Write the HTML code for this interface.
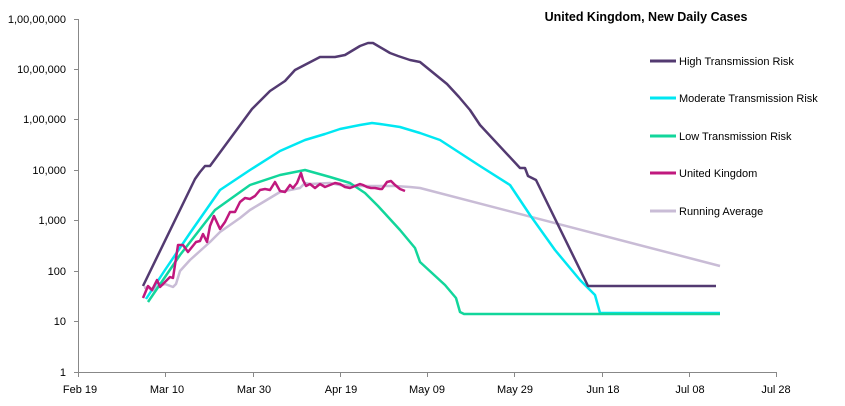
<!DOCTYPE html><html><head><style>body{margin:0;background:#fff}svg{display:block}text{font-family:"Liberation Sans",sans-serif;font-size:11px;fill:#000}</style></head><body>
<svg width="845" height="406" viewBox="0 0 845 406">
<g stroke="#888" stroke-width="1" fill="none">
<line x1="78.5" y1="19" x2="78.5" y2="372"/><line x1="78" y1="372.5" x2="777" y2="372.5"/>
<path d="M74 19.5H78M74 69.5H78M74 119.5H78M74 170.5H78M74 220.5H78M74 271.5H78M74 321.5H78M74 372.5H78"/>
<path d="M78.5 372V377M165.5 372V377M253.5 372V377M340.5 372V377M427.5 372V377M514.5 372V377M602.5 372V377M689.5 372V377M776.5 372V377"/>
</g>
<g text-anchor="end">
<text x="66" y="23">1,00,00,000</text><text x="66" y="73">10,00,000</text><text x="66" y="123">1,00,000</text><text x="66" y="174">10,000</text><text x="66" y="224">1,000</text><text x="66" y="275">100</text><text x="66" y="325">10</text><text x="66" y="376">1</text></g>
<g text-anchor="middle">
<text x="80" y="393">Feb 19</text><text x="167" y="393">Mar 10</text><text x="254" y="393">Mar 30</text><text x="341" y="393">Apr 19</text><text x="427" y="393">May 09</text><text x="515" y="393">May 29</text><text x="603" y="393">Jun 18</text><text x="690" y="393">Jul 08</text><text x="776" y="393">Jul 28</text></g>
<text x="646" y="21" text-anchor="middle" style="font-size:12.5px;font-weight:bold">United Kingdom, New Daily Cases</text>
<g fill="none" stroke-width="2.5" stroke-linejoin="round">
<polyline stroke="#c9bcd6" points="144,288 148,287 152,291 158,286 165,284 173,287 176,284 180,271 190,260 200,251 210,242 220,232 230,225 240,218 250,210 260,204 270,198 280,192 290,190 300,188 305,183 310,184 330,183 340,185 360,186 380,186 395,186 410,187 420,188 720,266"/>
<polyline stroke="#00e7f2" points="146,299 165,270 190,233 220,190 250,170 280,151 305,140 325,134 340,129 360,125 372,123 380,124 400,127 420,133 440,140 460,153 480,166 510,185 530,215 555,250 580,280 595,295 600,313 720,313"/>
<polyline stroke="#12d69b" points="148,302 180,255 215,210 250,185 280,175 305,170 330,177 350,183 365,193 378,206 400,230 415,248 420,262 445,285 456,298 460,312 464,314 720,314"/>
<polyline stroke="#533a71" points="143,286 195,179 200,172 205,166 210,166 252,109 270,91 285,81 295,70 320,57 335,57 345,55 360,46 368,43 373,43 390,53 398,56 410,60 420,62 447,84 459,97 470,110 480,125 520,168 525,168 528,176 536,180 588,286 716,286"/>
<polyline stroke="#c0187e" points="143,298 148,286 152,290 157,280 160,287 165,282 170,277 173,278 178,245 183,245 188,252 192,247 196,242 200,241 203,234 207,242 210,226 214,216 220,229 225,222 230,212 235,212 240,202 245,198 250,199 255,196 260,190 265,189 270,190 275,182 280,191 285,192 290,185 293,188 297,183 301,173 303,180 306,186 310,184 315,188 320,184 325,187 330,185 335,183 340,184 345,187 350,188 355,186 360,184 363,185 367,187 371,188 375,188 380,189 382,189 387,182 391,181 395,185 400,189 405,191"/>
</g>
<g stroke-width="3"><line x1="650" y1="61" x2="676" y2="61" stroke="#533a71"/><line x1="650" y1="98" x2="676" y2="98" stroke="#00e7f2"/><line x1="650" y1="136" x2="676" y2="136" stroke="#12d69b"/><line x1="650" y1="173" x2="676" y2="173" stroke="#c0187e"/><line x1="650" y1="211" x2="676" y2="211" stroke="#c9bcd6"/></g>
<text x="679" y="65">High Transmission Risk</text><text x="679" y="102">Moderate Transmission Risk</text><text x="679" y="140">Low Transmission Risk</text><text x="679" y="177">United Kingdom</text><text x="679" y="215">Running Average</text>
</svg></body></html>
